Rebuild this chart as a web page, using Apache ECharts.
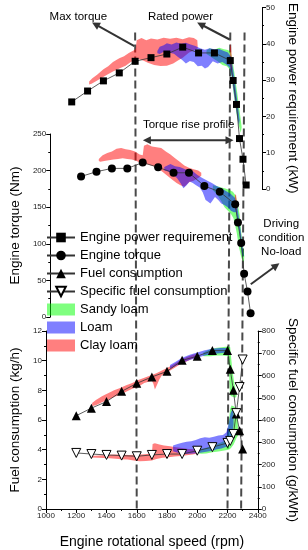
<!DOCTYPE html>
<html><head><meta charset="utf-8">
<script src="https://cdn.jsdelivr.net/npm/echarts@6/dist/echarts.min.js"></script>
<style>html,body{margin:0;padding:0;background:#fff}#c{width:308px;height:550px}</style>
</head><body><div id="c"></div>
<script>
// ---------- data ----------
const rpm = [1200,1300,1400,1500,1600,1700,1800,1900,2000,2100,2200,2218,2239,2258,2280,2300];
const power = [24.0,27.0,29.8,32.0,35.2,36.2,37.2,39.1,37.5,37.5,35.4,29.9,23.3,13.9,8.2,1.1];
const torque = [192,198.5,203,203,211,204.5,197,197,179,171,154,129,101,59,35,5];
const fuel = [6.29,6.8,7.24,7.93,8.47,8.9,9.28,10.02,10.3,10.68,10.68,9.42,8.0,6.4,5.27,4.05];
const sfc = [252,247,243,240,237,243,247,247,262,278,297,306,337,431,548,672];

// soil bands (outline polygons, [rpm, value])
const sandyPowerBand = [[2050,38.2],[2070,38.8],[2100,38.4],[2130,38.9],[2160,38.5],[2185,38.3],[2203,37.8],[2214,35.5],[2224,32.5],[2234,29.5],[2244,26.5],[2254,23.0],[2265,19.5],[2272,17.0],[2266,15.5],[2254,17.5],[2242,20.0],[2230,23.5],[2219,27.0],[2208,31.0],[2196,33.0],[2178,33.8],[2150,34.2],[2120,35.2],[2090,36.0],[2065,36.8],[2050,37.2]];
const loamPowerBand = [[1740,38.0],[1755,39.2],[1780,39.6],[1800,40.2],[1830,39.8],[1860,40.4],[1890,40.0],[1920,40.3],[1950,39.8],[1980,39.4],[2010,38.8],[2040,38.4],[2070,38.8],[2100,38.5],[2130,38.6],[2160,38.0],[2185,37.6],[2203,36.5],[2216,33.5],[2226,30.5],[2238,26.5],[2249,22.5],[2259,19.0],[2254,17.5],[2242,20.5],[2230,24.0],[2219,27.5],[2209,31.0],[2195,33.5],[2175,34.3],[2150,35.0],[2120,34.6],[2090,35.2],[2060,33.6],[2040,33.2],[2020,34.0],[1995,33.8],[1970,35.0],[1945,35.3],[1920,34.6],[1895,35.6],[1870,36.4],[1845,37.3],[1810,37.6],[1780,37.8],[1755,37.2],[1740,37.4]];
const clayPowerBand = [[1310,29.6],[1330,30.5],[1360,31.5],[1400,33.0],[1430,33.8],[1460,35.0],[1500,36.0],[1530,36.6],[1560,37.5],[1590,38.2],[1603,38.6],[1610,41.0],[1640,41.6],[1670,41.0],[1700,41.5],[1740,41.2],[1780,41.7],[1820,41.4],[1860,41.7],[1900,41.3],[1940,41.8],[1970,41.6],[1992,41.0],[1995,38.8],[1970,38.2],[1940,37.6],[1900,36.2],[1870,35.4],[1840,34.6],[1800,34.0],[1760,33.9],[1720,34.2],[1680,34.8],[1650,35.4],[1620,35.8],[1600,35.6],[1570,34.9],[1540,34.0],[1500,33.2],[1460,32.4],[1420,31.4],[1380,30.4],[1350,29.6],[1325,29.0],[1310,28.8]];
const clayPowerSpike = [[2196,36.5],[2199,40.2],[2205,39.0],[2210,36.0],[2213,33.0],[2206,32.0],[2199,34.0]];

const sandyTorqueBand = [[2055,180],[2080,179],[2110,177],[2131,176],[2160,174],[2185,171],[2203,166],[2218,152],[2229,140],[2239,116],[2250,97],[2259,83],[2257,76],[2249,76],[2239,82],[2223,97],[2210,115],[2200,125],[2189,135],[2172,141],[2150,146],[2131,150],[2110,158],[2090,165],[2070,170],[2055,173]];
const loamTorqueBand = [[1740,205],[1760,207],[1780,209],[1810,206],[1840,205],[1864,203],[1895,200],[1925,199],[1955,194],[1987,190],[2020,186],[2049,183],[2080,179],[2110,176],[2140,172],[2172,168],[2198,163],[2214,150],[2227,132],[2239,112],[2250,92],[2255,84],[2248,82],[2238,96],[2227,115],[2216,130],[2206,143],[2192,143],[2172,145],[2152,150],[2130,153],[2110,155],[2090,160],[2069,164],[2050,158],[2039,155],[2020,158],[2008,160],[1990,170],[1970,177],[1946,180],[1925,183],[1905,185],[1885,180],[1864,176],[1845,183],[1822,190],[1800,194],[1780,197],[1760,199],[1740,200]];
const clayTorqueBand = [[1315,216],[1340,221],[1370,224],[1400,226],[1430,230],[1460,231],[1490,229],[1520,228],[1550,226],[1580,222],[1600,221],[1608,234],[1630,236],[1660,233],[1690,232],[1720,231],[1750,226],[1780,222],[1810,217],[1840,212],[1870,207],[1900,204],[1930,202],[1960,200],[1980,197],[1980,193],[1960,190],[1930,186],[1900,184],[1870,178],[1845,180],[1820,183],[1790,188],[1760,193],[1730,198],[1700,203],[1670,206],[1640,208],[1610,210],[1590,210],[1560,213],[1530,215],[1500,216],[1470,217],[1440,216],[1410,215],[1380,214],[1350,213],[1325,212],[1315,213]];
const clayTorqueSpike = [[2194,152],[2197,162],[2200,168],[2206,166],[2211,158],[2214,148],[2204,146]];

const sandyFuelBand = [[2040,10.55],[2080,10.75],[2120,10.85],[2160,10.9],[2203,10.95],[2218,10.9],[2225,10.1],[2233,9.3],[2243,8.6],[2253,8.0],[2260,7.6],[2252,7.5],[2238,7.55],[2225,7.6],[2216,7.7],[2213,8.5],[2210,9.5],[2206,10.3],[2170,10.35],[2130,10.35],[2090,10.3],[2060,10.3],[2040,10.3]];
const loamFuelBand = [[1820,9.7],[1860,9.95],[1900,10.2],[1950,10.4],[2000,10.55],[2050,10.7],[2100,10.8],[2150,10.85],[2195,10.85],[2195,10.55],[2150,10.5],[2100,10.45],[2050,10.35],[2000,10.2],[1950,10.05],[1900,9.85],[1860,9.65],[1820,9.45]];
const clayFuelBand = [[1305,7.15],[1330,7.35],[1370,7.6],[1410,7.8],[1450,8.0],[1490,8.15],[1530,8.35],[1570,8.5],[1610,8.7],[1650,8.85],[1690,9.0],[1730,9.15],[1770,9.35],[1810,9.55],[1850,9.8],[1890,10.05],[1930,10.25],[1970,10.4],[1990,10.45],[1990,10.2],[1960,10.1],[1920,9.9],[1880,9.7],[1840,9.45],[1800,9.2],[1765,9.0],[1750,8.75],[1735,8.4],[1720,8.05],[1710,8.45],[1700,8.65],[1650,8.5],[1610,8.25],[1570,8.1],[1530,7.9],[1490,7.7],[1450,7.55],[1410,7.35],[1370,7.2],[1330,7.0],[1305,6.95]];

const sandySfcBand = [[2005,268],[2040,272],[2080,280],[2120,290],[2160,300],[2188,310],[2203,345],[2210,400],[2217,450],[2227,465],[2240,462],[2253,455],[2267,440],[2270,330],[2260,320],[2250,305],[2240,290],[2227,278],[2215,268],[2198,265],[2170,262],[2140,258],[2100,255],[2060,250],[2030,248],[2005,250]];
const loamSfcBand = [[1840,285],[1870,292],[1900,298],[1930,302],[1960,305],[1990,310],[2020,318],[2050,322],[2080,320],[2110,325],[2140,330],[2170,333],[2193,345],[2210,390],[2220,430],[2230,445],[2240,440],[2240,380],[2230,330],[2220,300],[2210,285],[2193,280],[2160,272],[2130,268],[2100,262],[2070,258],[2040,255],[2010,252],[1980,250],[1950,248],[1920,247],[1890,250],[1860,255],[1840,260]];
const claySfcBand = [[1300,238],[1350,240],[1400,243],[1450,245],[1500,244],[1550,243],[1600,244],[1650,246],[1700,250],[1705,292],[1720,296],[1750,290],[1780,285],[1820,282],[1860,278],[1900,274],[1940,270],[1980,268],[2005,266],[2005,250],[1970,245],[1930,242],[1890,238],[1850,236],[1810,233],[1770,230],[1730,225],[1700,218],[1660,216],[1620,215],[1580,218],[1540,222],[1500,224],[1460,226],[1420,228],[1380,229],[1340,230],[1300,232]];

// reference lines (rpm) and annotation anchors
const refLineRpm = [1600, 2200, 2290];
const annotations = {
  refTopKw: 43.1,
  maxTorque: {text: 'Max torque', at: [1242, 47.5], from: [1595, 39.4], to: [1328, 45.9]},
  ratedPower: {text: 'Rated power', at: [1886, 47.5], from: [2196, 41.2], to: [1991, 45.9]},
  torqueRise: {text: 'Torque rise profile', at: [1898, 262], from: [1601, 241.4], to: [2189, 241.4]},
  noLoad: {text: 'Driving\ncondition\nNo-load', at: [2499, 107.5], from: [2301, 44.7], to: [2487, 73.4]}
};

// ---------- chart ----------
const FONT = '"Liberation Sans", Arial, sans-serif';
const GREEN = 'rgba(0,255,0,0.5)', BLUE = 'rgba(0,0,255,0.5)', RED = 'rgba(255,0,0,0.5)';
const chart = echarts.init(document.getElementById('c'), null, {renderer: 'canvas'});

function band(name, color, polys, xi, yi) {
  return {
    type: 'custom', name, xAxisIndex: xi, yAxisIndex: yi, silent: true,
    itemStyle: {color}, clip: false,
    data: polys.map(p => p[0]),
    renderItem: (params, api) => ({
      type: 'polygon',
      shape: {points: polys[params.dataIndex].map(pt => api.coord(pt))},
      style: {fill: color}
    })
  };
}
function pts(ys) { return rpm.map((x, i) => [x, ys[i]]); }
function lineSeries(name, ys, xi, yi, symbol, size, extra) {
  return Object.assign({
    type: 'line', name, xAxisIndex: xi, yAxisIndex: yi, data: pts(ys),
    symbol, symbolSize: size, showAllSymbol: true,
    lineStyle: {color: '#333', width: 0.8},
    itemStyle: {color: '#000'}, z: 5
  }, extra || {});
}
const plain = v => String(v);
const tickLabel = {fontSize: 8, color: '#222', fontFamily: FONT, margin: 4, formatter: plain};
const axLine = {show: true, lineStyle: {color: '#000', width: 1}};
const axTick = {show: true, length: 4, lineStyle: {color: '#000'}};
const minor = {show: true, splitNumber: 2, length: 2, lineStyle: {color: '#000'}};
const nameStyle = {fontSize: 13.5, color: '#000', fontFamily: FONT};

const xBase = {type: 'value', min: 1000, max: 2400, interval: 200, splitLine: {show: false}};

const option = {
  animation: false,
  textStyle: {fontFamily: FONT},
  grid: [
    {left: 40, right: 42, top: 7, height: 182},
    {left: 40, right: 42, top: 134, height: 183},
    {left: 40, right: 42, top: 331, height: 182}
  ],
  xAxis: [
    Object.assign({gridIndex: 0, show: false}, xBase),
    Object.assign({gridIndex: 1, show: false}, xBase),
    Object.assign({gridIndex: 2, axisLine: axLine, axisTick: axTick, minorTick: minor,
      axisLabel: Object.assign({}, tickLabel, {margin: 3}),
      name: 'Engine rotational speed (rpm)', nameLocation: 'middle', nameGap: 26,
      nameTextStyle: Object.assign({}, nameStyle, {fontSize: 14})}, xBase)
  ],
  yAxis: [
    {type: 'value', gridIndex: 0, position: 'right', min: 0, max: 50, interval: 10,
      axisLine: axLine, axisTick: axTick, minorTick: minor, axisLabel: tickLabel, splitLine: {show: false},
      name: 'Engine power requirement (kW)', nameLocation: 'middle', nameRotate: -90, nameGap: 24, nameTextStyle: nameStyle},
    {type: 'value', gridIndex: 1, position: 'left', min: 0, max: 250, interval: 50,
      axisLine: axLine, axisTick: axTick, minorTick: minor, axisLabel: tickLabel, splitLine: {show: false},
      name: 'Engine torque (Nm)', nameLocation: 'middle', nameRotate: 90, nameGap: 24, nameTextStyle: nameStyle},
    {type: 'value', gridIndex: 2, position: 'left', min: 0, max: 12, interval: 2,
      axisLine: axLine, axisTick: axTick, minorTick: minor, axisLabel: tickLabel, splitLine: {show: false},
      name: 'Fuel consumption (kg/h)', nameLocation: 'middle', nameRotate: 90, nameGap: 24, nameTextStyle: nameStyle},
    {type: 'value', gridIndex: 2, position: 'right', min: 0, max: 800, interval: 100,
      axisLine: axLine, axisTick: axTick, minorTick: minor, axisLabel: tickLabel, splitLine: {show: false},
      name: 'Specific fuel consumption (g/kWh)', nameLocation: 'middle', nameRotate: -90, nameGap: 24, nameTextStyle: nameStyle}
  ],
  legend: {
    orient: 'vertical', left: 41, top: 226, itemWidth: 28, itemHeight: 12, itemGap: 5,
    textStyle: {fontSize: 13, color: '#000', fontFamily: FONT},
    data: [
      {name: 'Engine power requirement'}, {name: 'Engine torque'},
      {name: 'Fuel consumption'}, {name: 'Specific fuel consumption'},
      {name: 'Sandy loam', icon: 'rect'}, {name: 'Loam', icon: 'rect'}, {name: 'Clay loam', icon: 'rect'}
    ]
  },
  series: [
    band('Sandy loam', GREEN, [sandyPowerBand], 0, 0),
    band('Clay loam', RED, [clayPowerBand, clayPowerSpike], 0, 0),
    band('Loam', BLUE, [loamPowerBand], 0, 0),
    band('Sandy loam', GREEN, [sandyTorqueBand], 1, 1),
    band('Clay loam', RED, [clayTorqueBand, clayTorqueSpike], 1, 1),
    band('Loam', BLUE, [loamTorqueBand], 1, 1),
    band('Sandy loam', GREEN, [sandyFuelBand], 2, 2),
    band('Clay loam', RED, [clayFuelBand], 2, 2),
    band('Loam', BLUE, [loamFuelBand], 2, 2),
    band('Sandy loam', GREEN, [sandySfcBand], 2, 3),
    band('Clay loam', RED, [claySfcBand], 2, 3),
    band('Loam', BLUE, [loamSfcBand], 2, 3),
    lineSeries('Engine power requirement', power, 0, 0, 'rect', 7),
    lineSeries('Engine torque', torque, 1, 1, 'circle', 8),
    lineSeries('Fuel consumption', fuel, 2, 2, 'triangle', 9),
    lineSeries('Specific fuel consumption', sfc, 2, 3, 'triangle', 9,
      {symbolRotate: 180, itemStyle: {color: '#fff', borderColor: '#000', borderWidth: 1}})
  ]
};
chart.setOption(option);

// ---------- annotations positioned through the axes ----------
const px = (g, p) => chart.convertToPixel({xAxisIndex: g, yAxisIndex: g}, p);
const ARROW = '#333';
function arrowHead(tip, tail, len, half) {
  const dx = tip[0] - tail[0], dy = tip[1] - tail[1];
  const L = Math.hypot(dx, dy), ux = dx / L, uy = dy / L;
  const bx = tip[0] - ux * len, by = tip[1] - uy * len;
  return {type: 'polygon', z: 10, shape: {points: [tip, [bx - uy * half, by + ux * half], [bx + uy * half, by - ux * half]]}, style: {fill: ARROW}};
}
function arrow(g, a, both) {
  const p0 = px(g, a.from), p1 = px(g, a.to);
  const dx = p1[0] - p0[0], dy = p1[1] - p0[1], L = Math.hypot(dx, dy);
  const ux = dx / L, uy = dy / L, h = 6;
  const s = both ? [p0[0] + ux * h, p0[1] + uy * h] : p0;
  const e = [p1[0] - ux * h, p1[1] - uy * h];
  const els = [{type: 'line', z: 10, shape: {x1: s[0], y1: s[1], x2: e[0], y2: e[1]}, style: {stroke: ARROW, lineWidth: 2}},
    arrowHead(p1, p0, 8, 4)];
  if (both) els.push(arrowHead(p0, p1, 8, 4));
  return els;
}
function label(g, a, size) {
  const p = px(g, a.at);
  return {type: 'text', z: 10, x: p[0], y: p[1],
    style: {text: a.text, fill: '#000', font: size + 'px ' + FONT, align: 'center', verticalAlign: 'middle', lineHeight: 14}};
}
const gfx = [];
refLineRpm.forEach(r => {
  const t = px(0, [r, annotations.refTopKw]);
  const b = px(2, [r, 0]);
  gfx.push({type: 'line', z: 1, shape: {x1: t[0], y1: t[1], x2: b[0], y2: b[1]},
    style: {stroke: '#4a4a4a', lineWidth: 2, lineDash: [8, 4]}});
});
gfx.push(...arrow(0, annotations.maxTorque), label(0, annotations.maxTorque, 11.5));
gfx.push(...arrow(0, annotations.ratedPower), label(0, annotations.ratedPower, 11.5));
gfx.push(...arrow(1, annotations.torqueRise, true), label(1, annotations.torqueRise, 11.5));
gfx.push(...arrow(1, annotations.noLoad), label(1, annotations.noLoad, 11.5));
chart.setOption({graphic: {elements: gfx}});
</script></body></html>
